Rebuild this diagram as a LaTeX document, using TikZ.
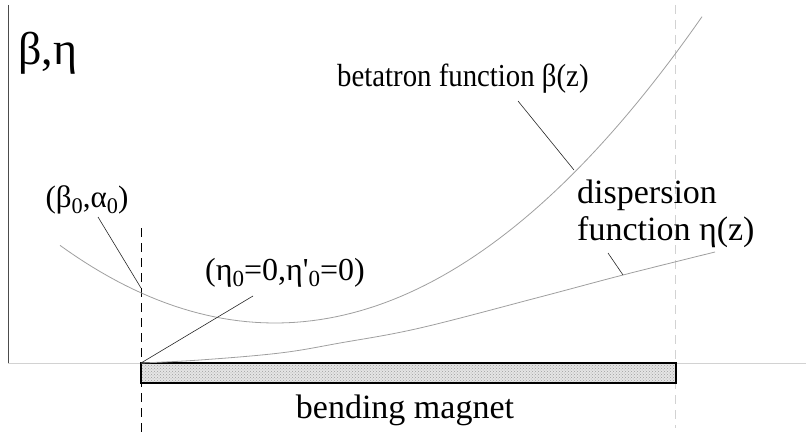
\documentclass[tikz,border=0pt]{standalone}
\usepackage{fontspec}
\setmainfont{Liberation Serif}
\usetikzlibrary{patterns}
\newcommand{\lo}[1]{\raisebox{-0.4ex}{\scalebox{0.72}{#1}}}

\begin{document}
\begin{tikzpicture}[x=1pt,y=-1pt,
  curve/.style={gray!75,line width=0.8pt},
  leader/.style={black!85,line width=0.6pt},
  lbl/.style={font=\fontsize{32}{36}\selectfont,inner sep=0pt}]
\useasboundingbox (0,0) rectangle (806,433);
\draw[black!70,line width=0.8pt] (8,5) -- (8,363);
\draw[gray!35,line width=0.6pt] (8,363) -- (806,363);
\draw[dash pattern=on 9pt off 6pt,line width=0.8pt] (141,228) -- (141,433);
\draw[gray!35,dash pattern=on 9pt off 6pt,line width=0.8pt] (675,5) -- (675,428);
\fill[gray!20] (141,363) rectangle (676,383);
\draw[line width=1.8pt,pattern=crosshatch dots,pattern color=gray!75] (141,363) rectangle (676,383);
\draw[curve] plot[domain=60:702,samples=80] (\x,{323-16.8*((\x-275)/100)^2});
\draw[curve] plot[smooth,tension=0.6] coordinates {(141,363) (200,360) (280,353) (340,343) (420,328) (540,297) (623,275) (715,252)};
\node[lbl,font=\fontsize{46}{50}\selectfont] (axis) at (48,53) {β,η};
\node[lbl,font=\fontsize{31}{34}\selectfont] (beta0) at (87,200) {(β\lo0,α\lo0)};
\node[lbl] (eta0) at (285,273) {(η\lo0=0,η\textquotesingle\lo0=0)};
\node[lbl,anchor=base west] (betafn) at (337,87) {\scalebox{0.9}[1]{betatron function β(z)}};
\node[lbl,font=\fontsize{34}{37}\selectfont,align=left,anchor=north west] (etafn) at (577,180) {dispersion\\function η(z)};
\node[lbl,font=\fontsize{34}{36}\selectfont] (magnet) at (405,410) {bending magnet};
\coordinate (b0) at (141,288);
\coordinate (e0) at (141,363);
\coordinate (bz) at (574,170);
\coordinate (ez) at (623,275);
\coordinate (beta0 tip) at (98,217);
\coordinate (eta0 tip) at (253,296);
\coordinate (betafn tip) at (518,101);
\coordinate (etafn tip) at (608,253);
\draw[leader] (beta0 tip) -- (b0);
\draw[leader] (eta0 tip) -- (e0);
\draw[leader] (betafn tip) -- (bz);
\draw[leader] (etafn tip) -- (ez);
\end{tikzpicture}
\end{document}
